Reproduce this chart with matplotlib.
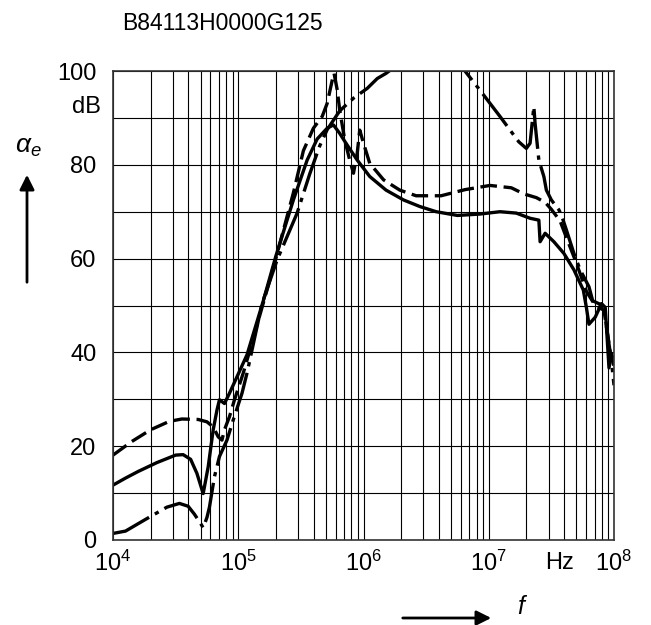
import numpy as np
import matplotlib.pyplot as plt
from matplotlib.ticker import FixedLocator, LogLocator, NullFormatter

plt.rcParams['font.family'] = ['Liberation Sans', 'DejaVu Sans']
plt.rcParams['mathtext.fontset'] = 'custom'
plt.rcParams['mathtext.rm'] = 'Liberation Sans'
plt.rcParams['mathtext.it'] = 'Liberation Sans:italic'

# Courbes (log10 de f, attenuation en dB)
solid_logf = [4.00, 4.10, 4.20, 4.35, 4.50, 4.56, 4.62, 4.67, 4.72, 4.76, 4.80, 4.83,
              4.85, 4.89, 4.93, 4.99, 5.07, 5.20, 5.30, 5.44, 5.55, 5.63, 5.71, 5.76,
              5.81, 5.86, 5.95, 6.05, 6.18, 6.32, 6.45, 6.58, 6.75, 6.93, 7.09, 7.22, 7.33,
              7.40, 7.41, 7.45, 7.52, 7.60, 7.68, 7.755, 7.78, 7.80, 7.85, 7.90, 7.93,
              7.96, 7.98, 8.00]
solid_db = [11.7, 13.2, 14.6, 16.5, 18.1, 18.2, 17.2, 14.2, 9.9, 15.6, 23.5, 27.7,
            29.9, 29.1, 31.3, 34.8, 39.5, 51.0, 60.5, 72.5, 81.0, 85.5, 87.8, 88.5,
            86.7, 84.6, 81.0, 77.5, 74.6, 72.5, 71.1, 70.0, 69.2, 69.5, 70.0, 69.7, 68.6,
            68.2, 63.6, 65.4, 63.6, 61.1, 57.6, 53.3, 49.5, 46.0, 47.5, 50.4, 49.6,
            36.7, 39.7, 38.0]

dash_logf = [4.00, 4.15, 4.30, 4.45, 4.55, 4.68, 4.75, 4.80, 4.84, 4.87, 4.89, 4.93,
             4.97, 5.04, 5.09, 5.29, 5.44, 5.52, 5.60, 5.67, 5.71, 5.75, 5.765, 5.79,
             5.81, 5.85, 5.89, 5.92, 5.95, 5.97, 6.00, 6.05, 6.16, 6.29, 6.42, 6.62,
             6.81, 7.01, 7.18, 7.28, 7.38, 7.45, 7.50, 7.57, 7.62, 7.70, 7.78, 7.85,
             7.92, 7.97, 8.00]
dash_db = [18.1, 21.0, 23.5, 25.3, 25.8, 25.7, 25.2, 24.1, 22.0, 21.3, 23.5, 26.3,
           29.9, 35.6, 40.2, 59.0, 74.0, 83.0, 87.8, 90.3, 93.1, 98.0, 99.5, 96.0,
           91.7, 85.3, 81.0, 78.2, 82.5, 87.4, 84.6, 80.3, 76.8, 74.6, 73.4, 73.4,
           74.7, 75.6, 75.1, 73.8, 73.0, 72.0, 70.5, 68.0, 64.5, 59.0, 53.0, 50.0,
           49.0, 40.0, 37.0]

dashdot_logf = [4.00, 4.10, 4.26, 4.43, 4.53, 4.60, 4.65, 4.70, 4.72, 4.75, 4.77, 4.81,
                4.85, 4.91, 4.96, 5.03, 5.07, 5.19, 5.31, 5.47, 5.57, 5.65, 5.71, 5.81,
                5.92, 6.03, 6.11, 6.18, 6.23, 6.50, 6.78, 6.81, 6.93, 7.01, 7.09, 7.17,
                7.24, 7.30, 7.33, 7.36, 7.37, 7.40, 7.44, 7.46, 7.50, 7.56, 7.58, 7.62,
                7.68, 7.73, 7.80, 7.83, 7.91, 7.93, 7.98, 8.00]
dashdot_db = [1.4, 1.9, 4.4, 7.0, 7.8, 7.2, 5.5, 3.5, 2.6, 4.8, 7.0, 13.5,
              17.8, 21.3, 25.6, 31.3, 35.6, 50.4, 59.7, 69.7, 78.0, 84.0, 87.5, 91.5,
              94.2, 96.3, 98.4, 99.5, 100.5, 108.0, 101.0, 100.0, 95.9, 93.1, 90.3, 87.4,
              84.9, 83.5, 84.6, 92.4, 88.8, 81.0, 77.5, 74.6, 72.5, 70.4, 69.3, 66.1,
              61.1, 57.6, 54.0, 51.0, 50.0, 47.5, 38.0, 33.0]

xtick_exp = [4, 5, 6, 7, 8]
yticks = [0, 20, 40, 60, 80, 100]

fig = plt.figure(figsize=(6.51, 6.25), dpi=100)
ax = fig.add_axes([113 / 651, 1 - 540 / 625, 501 / 651, 469 / 625])

lw = 2.4
ax.plot(10 ** np.array(solid_logf), solid_db, color='k', lw=lw, solid_joinstyle='round')
ax.plot(10 ** np.array(dash_logf), dash_db, color='k', lw=lw, dashes=(5, 2))
ax.plot(10 ** np.array(dashdot_logf), dashdot_db, color='k', lw=lw, dashes=(12, 2, 1.3, 2))

ax.set_xscale('log')
ax.set_xlim(1e4, 1e8)
ax.set_ylim(0, 100)

ax.set_xticks([10.0 ** e for e in xtick_exp])
ax.set_xticklabels([r'$\mathregular{10^{%d}}$' % e for e in xtick_exp])
ax.xaxis.set_minor_locator(LogLocator(base=10, subs=np.arange(2, 10)))
ax.xaxis.set_minor_formatter(NullFormatter())
ax.set_yticks(yticks)
ax.set_yticklabels([str(v) for v in yticks])
ax.yaxis.set_minor_locator(FixedLocator([10, 30, 50, 70, 90]))

ax.grid(True, which='both', color='k', lw=0.8)
ax.tick_params(which='both', length=0, labelsize=17)
ax.tick_params(axis='y', pad=12)
ax.tick_params(axis='x', pad=8)
for s in ax.spines.values():
    s.set_color('#333333')
    s.set_linewidth(1.2)

ax.text(-0.025, 92.3, 'dB', transform=ax.get_yaxis_transform(), ha='right', va='center', fontsize=17)
ax.text(3.7e7, -0.048, 'Hz', transform=ax.get_xaxis_transform(), ha='center', va='center', fontsize=17)

fig.text(122 / 651, 1 - 24 / 625, 'B84113H0000G125', ha='left', va='center', fontsize=16.5)
fig.text(28 / 651, 1 - 147 / 625, r'$\mathit{\alpha_e}$', ha='center', va='center', fontsize=19)
fig.text(523 / 651, 1 - 607 / 625, r'$f$', ha='center', va='center', fontsize=18)

ax.annotate('', xy=(27 / 651, 1 - 172 / 625), xytext=(27 / 651, 1 - 285 / 625),
            xycoords='figure fraction', textcoords='figure fraction',
            arrowprops=dict(arrowstyle='-|>', color='k', lw=2, mutation_scale=22))
ax.annotate('', xy=(494 / 651, 1 - 618 / 625), xytext=(400 / 651, 1 - 618 / 625),
            xycoords='figure fraction', textcoords='figure fraction',
            arrowprops=dict(arrowstyle='-|>', color='k', lw=2, mutation_scale=22))

plt.savefig('out.png', dpi=100)
